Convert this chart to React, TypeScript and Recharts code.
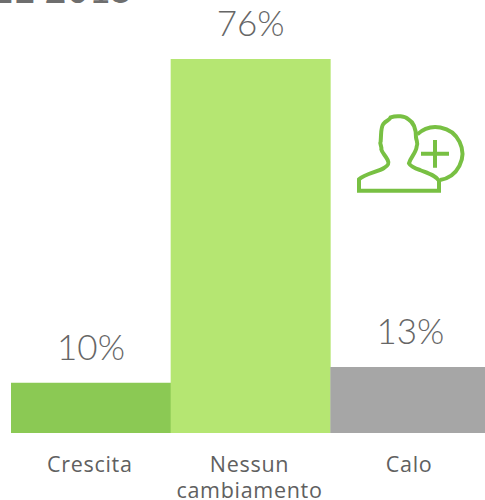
import { BarChart, Bar, XAxis, YAxis, Cell, LabelList } from "recharts";

const categories = ["Crescita", "Nessun cambiamento", "Calo"];
const values = [10.2, 76, 13.4];
const barColors = ["#8bc954", "#b5e672", "#a6a6a6"];
const rows = categories.map((name, i) => ({ name, value: values[i] }));

const FONT = "Lato, sans-serif";
const TICK_FONT = "'Open Sans', sans-serif";

// splits the long category on two lines like the original
function CategoryTick({ x, y, payload }: any) {
  const words = String(payload.value).split(" ");
  return (
    <text x={x - 1} y={y} textAnchor="middle" fill="#606060" fontSize={21.5} letterSpacing={0.7} fontFamily={TICK_FONT}>
      {words.map((w: string, i: number) => (
        <tspan key={w} x={x - 1} dy={i === 0 ? 0 : 26}>{w}</tspan>
      ))}
    </text>
  );
}

function UserPlusIcon() {
  return (
    <svg
      width={140}
      height={110}
      viewBox="0 0 420 330"
      style={{ position: "absolute", left: 340, top: 100 }}
      fill="none"
      stroke="#78c043"
      strokeWidth={12}
    >
      <path d="M57 272 L57 238 C75 222 115 215 132 204 C146 196 148 190 143 180 C135 165 126 158 124 148 C126 140 118 130 122 124 C124 100 122 82 130 72 C140 60 148 62 152 52 C170 46 195 48 205 58 C222 68 228 85 228 112 C230 125 235 130 230 140 C228 160 212 170 207 190 C212 200 225 205 240 210 C265 220 285 225 297 242 L297 272 Z" />
      <path d="M232 103 A80 80 0 1 1 300 240" />
      <path d="M243 161 L327 161 M285 120 L285 203" />
    </svg>
  );
}

export default function App() {
  return (
    <div style={{ position: "absolute", left: 0, top: 0, width: 485, height: 500, overflow: "hidden", background: "#fff" }}>
      <div
        style={{
          position: "absolute", left: -9, top: -31, fontFamily: FONT, fontSize: 38, lineHeight: "38px",
          fontWeight: 400, color: "#6e6e6e", whiteSpace: "nowrap",
        }}
      >
        EE 2015
      </div>
      <BarChart
        width={490}
        height={500}
        data={rows}
        barCategoryGap={0}
        margin={{ top: 59, right: 0, bottom: 0, left: 11 }}
      >
        <XAxis
          dataKey="name"
          axisLine={false}
          tickLine={false}
          interval={0}
          height={67}
          tick={<CategoryTick />}
          tickMargin={33}
        />
        <YAxis hide domain={[0, 76]} />
        <Bar dataKey="value" isAnimationActive={false}>
          {rows.map((r, i) => (
            <Cell key={r.name} fill={barColors[i]} />
          ))}
          <LabelList
            dataKey="value"
            position="top"
            offset={23}
            formatter={(v: number) => `${Math.round(v)}%`}
            fill="#666666"
            fontSize={35}
            fontWeight={300}
            fontFamily={FONT}
          />
        </Bar>
      </BarChart>
      <UserPlusIcon />
    </div>
  );
}
